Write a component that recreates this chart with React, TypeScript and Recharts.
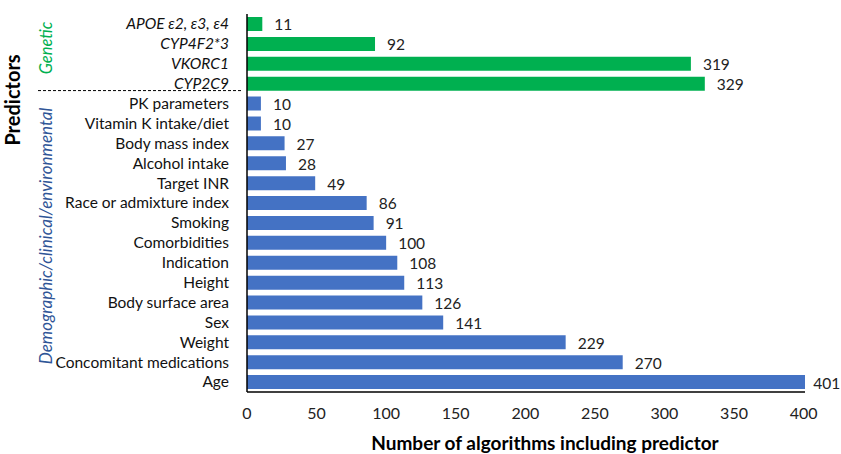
import React from "react";
import { BarChart, Bar, XAxis, YAxis, Cell, LabelList } from "recharts";

const predictors = [
  "APOE ε2, ε3, ε4",
  "CYP4F2*3",
  "VKORC1",
  "CYP2C9",
  "PK parameters",
  "Vitamin K intake/diet",
  "Body mass index",
  "Alcohol intake",
  "Target INR",
  "Race or admixture index",
  "Smoking",
  "Comorbidities",
  "Indication",
  "Height",
  "Body surface area",
  "Sex",
  "Weight",
  "Concomitant medications",
  "Age",
];
const counts = [11, 92, 319, 329, 10, 10, 27, 28, 49, 86, 91, 100, 108, 113, 126, 141, 229, 270, 401];
const groups = ["genetic", "genetic", "genetic", "genetic", "other", "other", "other", "other", "other", "other", "other", "other", "other", "other", "other", "other", "other", "other", "other"];
const xTicks = [0, 50, 100, 150, 200, 250, 300, 350, 400];

const data = predictors.map((name, i) => ({ name, count: counts[i], group: groups[i] }));

const GREEN = "#00B050";
const BLUE = "#4472C4";
const FONT = "Lato, 'Open Sans', sans-serif";

const W = 841;
const H = 454;
const TOP = 14;
const BOTTOM = 62;
const rowH = (H - TOP - BOTTOM) / predictors.length;

const YTick = (props: any) => {
  const { x, y, payload, index } = props;
  const genetic = groups[index] === "genetic";
  return (
    <g>
      <text
        x={x}
        y={y}
        dy="0.35em"
        textAnchor="end"
        fontSize={15.5}
        fontStyle={genetic ? "italic" : "normal"}
        fill="#111"
        fontFamily={FONT}
      >
        {payload.value}
      </text>
      {index === 3 && (
        <line
          x1={38}
          x2={x + 12}
          y1={y + rowH / 2 - 3}
          y2={y + rowH / 2 - 3}
          stroke="#000"
          strokeDasharray="3 2"
          strokeWidth={1}
        />
      )}
    </g>
  );
};

// value label to the right of the bar, kept inside the picture
const ValueLabel = (props: any) => {
  const { x, y, width, height, value } = props;
  const text = String(value);
  const tw = text.length * 8.6;
  const lx = Math.min(x + width + 12, W - tw - 2);
  return (
    <text
      x={lx}
      y={y + height / 2 + 1}
      dy="0.35em"
      fontSize={15.5}
      fill="#222"
      fontFamily={FONT}
    >
      {text}
    </text>
  );
};

export default function App() {
  return (
    <div style={{ position: "absolute", left: 0, top: 0, width: W, height: H, background: "#fff" }}>
      <BarChart
        width={W}
        height={H}
        data={data}
        layout="vertical"
        margin={{ top: TOP, right: 36, left: 0, bottom: 0 }}
        barSize={14}
      >
        <XAxis
          type="number"
          domain={[0, 400]}
          ticks={xTicks}
          tickLine={false}
          axisLine={{ stroke: "#000", strokeWidth: 1.5 }}
          tick={{ fontSize: 16, fill: "#222", fontFamily: FONT }}
          tickMargin={10}
          height={BOTTOM}
          label={{
            value: "Number of algorithms including predictor",
            position: "insideBottom",
            offset: 4,
            dx: 19,
            style: { fontSize: 19, fontWeight: 700, fill: "#000", fontFamily: FONT },
          }}
        />
        <YAxis
          type="category"
          dataKey="name"
          width={247}
          tickLine={false}
          axisLine={{ stroke: "#000", strokeWidth: 1.5 }}
          tick={<YTick />}
          tickMargin={12}
          interval={0}
        />
        <Bar dataKey="count" isAnimationActive={false}>
          {data.map((d, i) => (
            <Cell key={i} fill={d.group === "genetic" ? GREEN : BLUE} />
          ))}
          <LabelList dataKey="count" content={<ValueLabel />} />
        </Bar>
      </BarChart>
      <svg width={W} height={H} style={{ position: "absolute", left: 0, top: 0, pointerEvents: "none" }}>
        <text
          transform="translate(20,100) rotate(-90)"
          textAnchor="middle"
          fontSize={20}
          fontWeight={700}
          fontFamily={FONT}
          fill="#000"
        >
          Predictors
        </text>
        <text
          transform="translate(52,48) rotate(-90)"
          textAnchor="middle"
          fontSize={16.5}
          fontStyle="italic"
          fontFamily={FONT}
          fill={GREEN}
        >
          Genetic
        </text>
        <text
          transform="translate(52,236) rotate(-90)"
          textAnchor="middle"
          fontSize={17}
          fontStyle="italic"
          fontFamily={FONT}
          fill="#2F5597"
        >
          Demographic/clinical/environmental
        </text>
      </svg>
    </div>
  );
}
